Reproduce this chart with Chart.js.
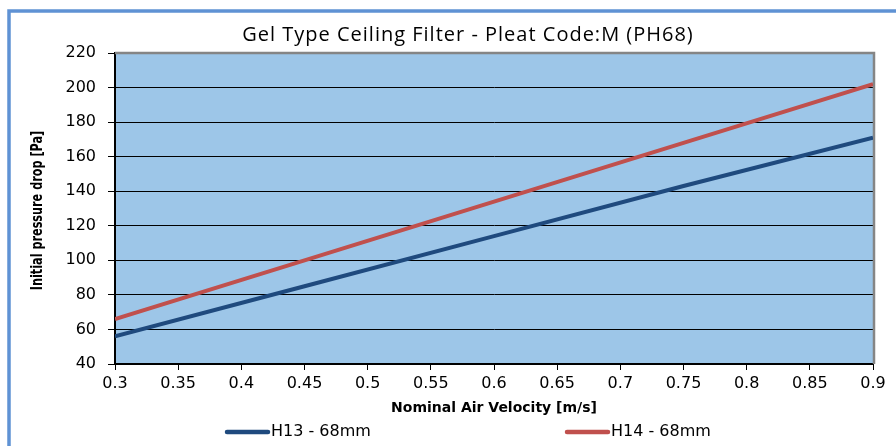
<!DOCTYPE html>
<html>
<head>
<meta charset="utf-8">
<script src="https://cdn.jsdelivr.net/npm/chart.js@4/dist/chart.umd.min.js"></script>
<style>
  html, body { margin: 0; padding: 0; background: #fff; overflow: hidden; }
  canvas { display: block; }
</style>
</head>
<body>
<canvas id="filterChart" width="896" height="446"></canvas>
<script>
// Values
const velocity = [0.3, 0.45, 0.6, 0.75, 0.9];
const h13Drop = [56, 85, 114, 143, 171];
const h14Drop = [66, 100, 134, 168, 202];
const seriesNames = ["H13 - 68mm", "H14 - 68mm"];

const chartTitle = "Gel Type Ceiling Filter - Pleat Code:M (PH68)";
const xTitle = "Nominal Air Velocity [m/s]";
const yTitle = "Initial pressure drop [Pa]";

const blueLine = "#1F4A7E";
const redLine = "#C0504D";
const plotFill = "#9DC6E8";
const frameBlue = "#5F92D4";
const tickFont = { family: "'DejaVu Sans', sans-serif", size: 16 };

// frame, plot background, titles and legend
const decor = {
  id: "decor",
  beforeDraw(chart) {
    const { ctx, chartArea: a } = chart;
    ctx.save();
    ctx.fillStyle = plotFill;
    ctx.fillRect(a.left, a.top, a.right - a.left, a.bottom - a.top);
    ctx.strokeStyle = frameBlue;
    ctx.lineWidth = 3.5;
    ctx.strokeRect(9, 11, 1000, 1000);
    ctx.restore();
  },
  beforeDatasetsDraw(chart) {
    const { ctx, chartArea: a } = chart;
    ctx.save();
    ctx.strokeStyle = "#858585";
    ctx.lineWidth = 2.5;
    ctx.beginPath();
    ctx.moveTo(a.left, a.top);
    ctx.lineTo(a.right + 1, a.top);
    ctx.lineTo(a.right + 1, a.bottom);
    ctx.stroke();
    ctx.restore();
  },
  afterDraw(chart) {
    const { ctx, chartArea: a } = chart;
    ctx.save();
    ctx.fillStyle = "#000";
    ctx.font = "20px 'Open Sans', sans-serif";
    ctx.letterSpacing = "1px";
    ctx.textAlign = "center";
    ctx.textBaseline = "middle";
    ctx.fillText(chartTitle, 468, 35);
    ctx.letterSpacing = "0px";

    // y axis title, glyphs stretched a bit like the source image
    ctx.save();
    ctx.translate(38, (a.top + a.bottom) / 2 + 2);
    ctx.rotate(-Math.PI / 2);
    ctx.scale(1, 1.3);
    ctx.font = "bold 12.5px 'Liberation Sans Narrow', 'DejaVu Sans Condensed', sans-serif";
    ctx.fillText(yTitle, 0, 0);
    ctx.restore();

    // legend
    const legendX = [225, 565];
    chart.data.datasets.forEach((ds, i) => {
      const x0 = legendX[i];
      ctx.strokeStyle = ds.borderColor;
      ctx.lineWidth = 4.5;
      ctx.lineCap = "round";
      ctx.beginPath();
      ctx.moveTo(x0 + 2, 432);
      ctx.lineTo(x0 + 43, 432);
      ctx.stroke();
      ctx.fillStyle = "#000";
      ctx.font = "16px 'DejaVu Sans', sans-serif";
      ctx.textAlign = "left";
      ctx.fillText(ds.label, x0 + 46, 432);
    });
    ctx.restore();
  }
};

new Chart(document.getElementById("filterChart"), {
  type: "line",
  data: {
    datasets: [
      {
        label: seriesNames[0],
        data: velocity.map((v, i) => ({ x: v, y: h13Drop[i] })),
        borderColor: blueLine,
        borderWidth: 4,
        pointRadius: 0,
        tension: 0
      },
      {
        label: seriesNames[1],
        data: velocity.map((v, i) => ({ x: v, y: h14Drop[i] })),
        borderColor: redLine,
        borderWidth: 4,
        pointRadius: 0,
        tension: 0
      }
    ]
  },
  options: {
    responsive: false,
    animation: false,
    layout: { padding: { left: 0, top: 53, right: 23, bottom: 0 } },
    plugins: {
      legend: { display: false },
      title: { display: false },
      tooltip: { enabled: false }
    },
    scales: {
      x: {
        type: "linear",
        min: 0.3,
        max: 0.9,
        afterFit: (scale) => { scale.height = 82; },
        border: { color: "#000", width: 2 },
        grid: { drawOnChartArea: false, drawTicks: true, tickLength: 6, color: "#000" },
        ticks: {
          stepSize: 0.05,
          color: "#000",
          font: tickFont,
          padding: 4,
          maxRotation: 0,
          callback: (v) => String(+v.toFixed(2))
        },
        title: {
          display: true,
          text: xTitle,
          color: "#000",
          font: { family: "'DejaVu Sans', sans-serif", size: 14, weight: "bold" },
          padding: { top: 0, bottom: 29 }
        }
      },
      y: {
        min: 40,
        max: 220,
        afterFit: (scale) => { scale.width = 115; },
        border: { color: "#000", width: 2 },
        grid: { color: "#000", lineWidth: 1, tickLength: 7 },
        ticks: {
          stepSize: 20,
          color: "#000",
          font: tickFont,
          padding: 12
        }
      }
    }
  },
  plugins: [decor]
});
</script>
</body>
</html>
